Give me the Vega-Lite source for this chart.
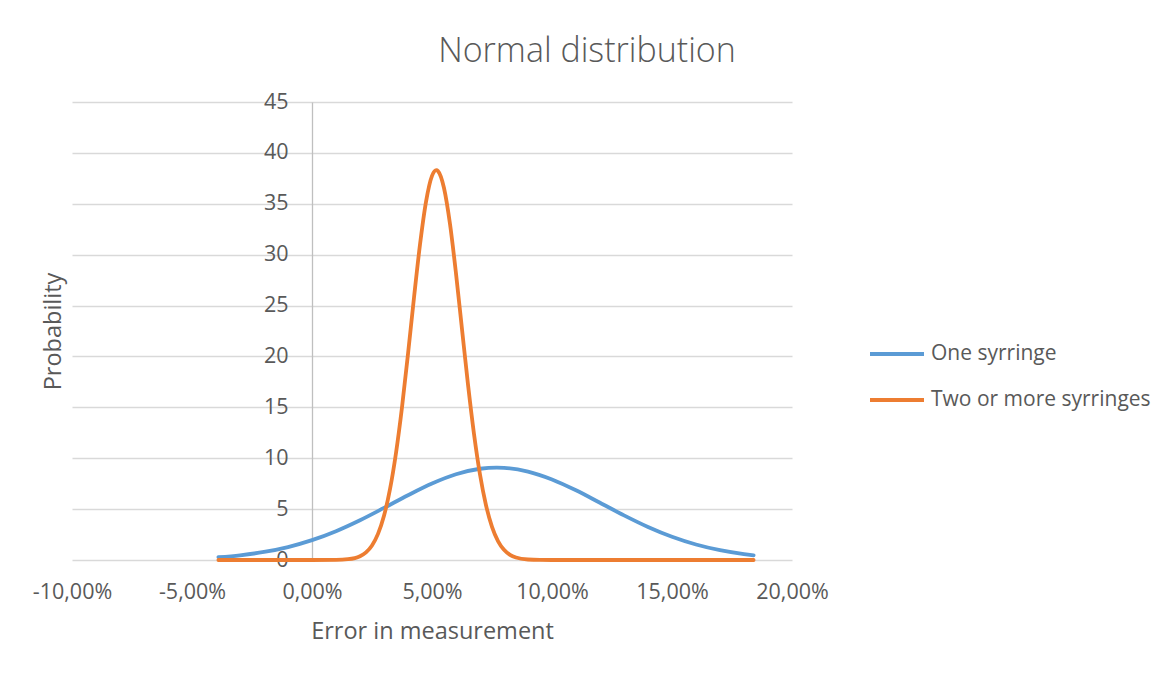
{
  "$schema": "https://vega.github.io/schema/vega-lite/v6.json",
  "width": 720,
  "height": 458,
  "autosize": {"type": "none"},
  "padding": {"left": 72, "top": 102, "right": 381, "bottom": 118},
  "background": "white",
  "config": {"view": {"stroke": null}, "font": "Open Sans"},
  "title": {"text": "Normal distribution", "fontSize": 34, "fontWeight": 300, "color": "#595959", "anchor": "middle", "dx": 155, "offset": 22},
  "data": {"values": [
    {"series": "One syrringe", "error": -0.039, "probability": 0.277},
    {"series": "One syrringe", "error": -0.03, "probability": 0.465},
    {"series": "One syrringe", "error": -0.02, "probability": 0.790},
    {"series": "One syrringe", "error": -0.01, "probability": 1.274},
    {"series": "One syrringe", "error": 0.0, "probability": 1.950},
    {"series": "One syrringe", "error": 0.01, "probability": 2.833},
    {"series": "One syrringe", "error": 0.02, "probability": 3.908},
    {"series": "One syrringe", "error": 0.03, "probability": 5.119},
    {"series": "One syrringe", "error": 0.04, "probability": 6.366},
    {"series": "One syrringe", "error": 0.05, "probability": 7.515},
    {"series": "One syrringe", "error": 0.06, "probability": 8.424},
    {"series": "One syrringe", "error": 0.07, "probability": 8.965},
    {"series": "One syrringe", "error": 0.077, "probability": 9.08},
    {"series": "One syrringe", "error": 0.08, "probability": 9.059},
    {"series": "One syrringe", "error": 0.09, "probability": 8.690},
    {"series": "One syrringe", "error": 0.10, "probability": 7.915},
    {"series": "One syrringe", "error": 0.11, "probability": 6.845},
    {"series": "One syrringe", "error": 0.12, "probability": 5.620},
    {"series": "One syrringe", "error": 0.13, "probability": 4.381},
    {"series": "One syrringe", "error": 0.14, "probability": 3.242},
    {"series": "One syrringe", "error": 0.15, "probability": 2.278},
    {"series": "One syrringe", "error": 0.16, "probability": 1.520},
    {"series": "One syrringe", "error": 0.17, "probability": 0.962},
    {"series": "One syrringe", "error": 0.18, "probability": 0.579},
    {"series": "One syrringe", "error": 0.184, "probability": 0.465},
    {"series": "Two or more syrringes", "error": -0.039, "probability": 0},
    {"series": "Two or more syrringes", "error": -0.02, "probability": 0},
    {"series": "Two or more syrringes", "error": 0.0, "probability": 0.0002},
    {"series": "Two or more syrringes", "error": 0.01, "probability": 0.013},
    {"series": "Two or more syrringes", "error": 0.015, "probability": 0.078},
    {"series": "Two or more syrringes", "error": 0.02, "probability": 0.374},
    {"series": "Two or more syrringes", "error": 0.0225, "probability": 0.751},
    {"series": "Two or more syrringes", "error": 0.025, "probability": 1.429},
    {"series": "Two or more syrringes", "error": 0.0275, "probability": 2.564},
    {"series": "Two or more syrringes", "error": 0.03, "probability": 4.347},
    {"series": "Two or more syrringes", "error": 0.0325, "probability": 6.958},
    {"series": "Two or more syrringes", "error": 0.035, "probability": 10.518},
    {"series": "Two or more syrringes", "error": 0.0375, "probability": 15.016},
    {"series": "Two or more syrringes", "error": 0.04, "probability": 20.246},
    {"series": "Two or more syrringes", "error": 0.0425, "probability": 25.776},
    {"series": "Two or more syrringes", "error": 0.045, "probability": 30.992},
    {"series": "Two or more syrringes", "error": 0.0475, "probability": 35.191},
    {"series": "Two or more syrringes", "error": 0.05, "probability": 37.736},
    {"series": "Two or more syrringes", "error": 0.0518, "probability": 38.3},
    {"series": "Two or more syrringes", "error": 0.0525, "probability": 38.214},
    {"series": "Two or more syrringes", "error": 0.055, "probability": 36.546},
    {"series": "Two or more syrringes", "error": 0.0575, "probability": 33.006},
    {"series": "Two or more syrringes", "error": 0.06, "probability": 28.151},
    {"series": "Two or more syrringes", "error": 0.0625, "probability": 22.675},
    {"series": "Two or more syrringes", "error": 0.065, "probability": 17.247},
    {"series": "Two or more syrringes", "error": 0.0675, "probability": 12.389},
    {"series": "Two or more syrringes", "error": 0.07, "probability": 8.405},
    {"series": "Two or more syrringes", "error": 0.0725, "probability": 5.384},
    {"series": "Two or more syrringes", "error": 0.075, "probability": 3.257},
    {"series": "Two or more syrringes", "error": 0.0775, "probability": 1.862},
    {"series": "Two or more syrringes", "error": 0.08, "probability": 1.004},
    {"series": "Two or more syrringes", "error": 0.0825, "probability": 0.512},
    {"series": "Two or more syrringes", "error": 0.085, "probability": 0.246},
    {"series": "Two or more syrringes", "error": 0.09, "probability": 0.048},
    {"series": "Two or more syrringes", "error": 0.095, "probability": 0.007},
    {"series": "Two or more syrringes", "error": 0.10, "probability": 0.001},
    {"series": "Two or more syrringes", "error": 0.12, "probability": 0},
    {"series": "Two or more syrringes", "error": 0.15, "probability": 0},
    {"series": "Two or more syrringes", "error": 0.184, "probability": 0}
  ]},
  "mark": {"type": "line", "interpolate": "monotone", "strokeWidth": 3.8, "strokeCap": "round", "strokeJoin": "round"},
  "encoding": {
    "x": {
      "field": "error", "type": "quantitative",
      "scale": {"domain": [-0.1, 0.2], "nice": false, "zero": false},
      "axis": {
        "values": [-0.1, -0.05, 0, 0.05, 0.1, 0.15, 0.2],
        "labelExpr": "replace(replace(format(datum.value, '.2%'), '.', ','), '\u2212', '-')",
        "grid": false, "domain": false, "ticks": false, "labelFlush": false,
        "labelPadding": 38, "labelBaseline": "alphabetic", "labelFontSize": 21.5, "labelColor": "#595959",
        "title": "Error in measurement", "titleFontSize": 23.5, "titleFontWeight": "normal", "titleColor": "#595959",
        "titleY": 78, "titleBaseline": "alphabetic"
      }
    },
    "y": {
      "field": "probability", "type": "quantitative",
      "scale": {"domain": [0, 45], "nice": false},
      "axis": {
        "values": [0, 5, 10, 15, 20, 25, 30, 35, 40, 45],
        "offset": -240, "domainColor": "#BFBFBF", "domainWidth": 1.3,
        "grid": true, "gridColor": "#D9D9D9", "gridWidth": 1.3,
        "ticks": false, "labelFlush": false,
        "labelPadding": 24, "labelFontSize": 21.5, "labelColor": "#595959", "labelBaseline": "middle",
        "title": "Probability", "titleFontSize": 23.5, "titleFontWeight": "normal", "titleColor": "#595959",
        "titleX": -252, "titleY": 229, "titleBaseline": "alphabetic", "titleAngle": -90
      }
    },
    "color": {
      "field": "series", "type": "nominal",
      "scale": {"domain": ["One syrringe", "Two or more syrringes"], "range": ["#5B9BD5", "#ED7D31"]},
      "legend": {
        "orient": "none", "legendX": 796, "legendY": 223, "title": null,
        "symbolType": "stroke", "symbolSize": 2916, "symbolStrokeWidth": 3.8,
        "labelFontSize": 21, "labelColor": "#595959", "labelOffset": 5, "labelLimit": 400, "rowPadding": 7
      }
    }
  }
}
